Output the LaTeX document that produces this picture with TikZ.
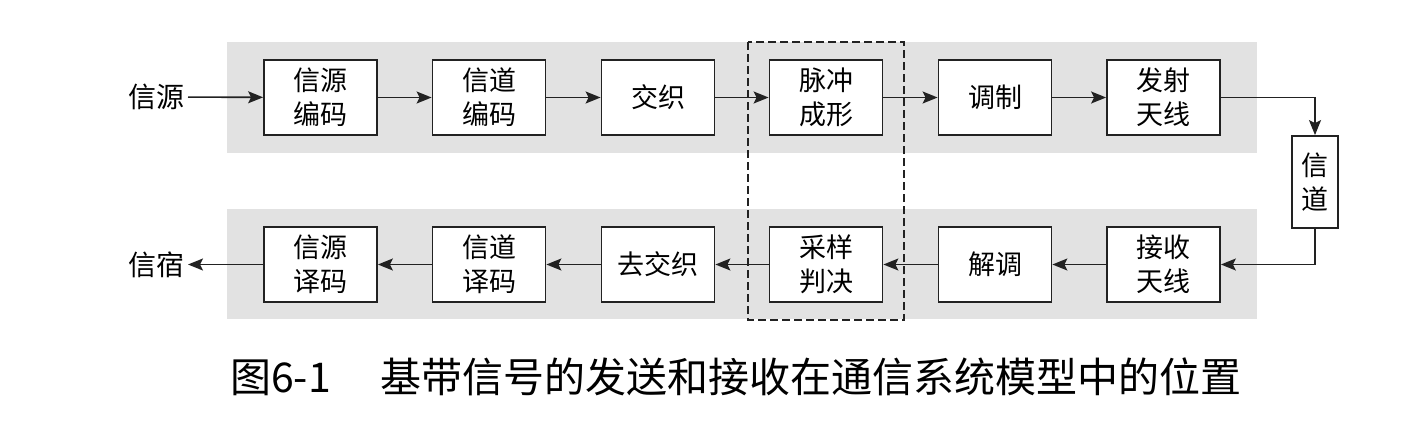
\documentclass[tikz,border=0pt]{standalone}
\usepackage{fontspec}
\newfontfamily\cjk{Noto Sans CJK SC}
\usepackage{xcolor}
\definecolor{BandCol}{RGB}{226,226,226}
\definecolor{LineCol}{RGB}{34,34,34}
\usepackage{tikz}
\usetikzlibrary{arrows.meta}
\tikzstyle{Block}=[draw=LineCol,fill=white,line width=1.8pt,inner sep=0pt,
minimum width=113pt,minimum height=75pt,align=center,
font=\cjk\fontsize{27}{34}\selectfont]
\tikzstyle{Label}=[inner sep=0pt,outer sep=4pt,font=\cjk\fontsize{28}{34}\selectfont]
\tikzstyle{Edge}=[draw=LineCol,line width=1.6pt,
-{Stealth[length=15pt,width=12pt,inset=3pt]}]
\tikzstyle{Band}=[fill=BandCol]
\tikzstyle{Frame}=[draw=LineCol,line width=1.6pt,dash pattern=on 8pt off 4pt]
\begin{document}
\begin{tikzpicture}[x=1pt,y=-1pt]
        \useasboundingbox[fill=white](0,0)rectangle(1428,431);
        % gray bands
        \fill[Band](227,42)rectangle(1257,153);
        \fill[Band](227,209)rectangle(1257,319);
        \draw[Frame](748,42)rectangle(904,320);
        % sending chain
        \node[Label](src)at(156,97){信源};
        \node[Block](t1)at(320.5,97.5){信源\\编码};
        \node[Block](t2)at(489,97.5){信道\\编码};
        \node[Block](t3)at(658,97.5){交织};
        \node[Block](t4)at(826,97.5){脉冲\\成形};
        \node[Block](t5)at(995,97.5){调制};
        \node[Block](t6)at(1163.5,97.5){发射\\天线};
        \node[Block,minimum width=46pt,minimum height=92pt](ch)at(1315,182){信\\道};
        % receiving chain
        \node[Block](r6)at(1163.5,264.5){接收\\天线};
        \node[Block](r5)at(995,264.5){解调};
        \node[Block](r4)at(826,264.5){采样\\判决};
        \node[Block](r3)at(658,264.5){去交织};
        \node[Block](r2)at(489,264.5){信道\\译码};
        \node[Block](r1)at(320.5,264.5){信源\\译码};
        \node[Label](snk)at(156,264.5){信宿};
        \draw[Edge](src)--(t1);
        \draw[Edge](t1)--(t2);
        \draw[Edge](t2)--(t3);
        \draw[Edge](t3)--(t4);
        \draw[Edge](t4)--(t5);
        \draw[Edge](t5)--(t6);
        \draw[Edge](t6.east)-|(ch.north);
        \draw[Edge](ch.south)|-(r6.east);
        \draw[Edge](r6)--(r5);
        \draw[Edge](r5)--(r4);
        \draw[Edge](r4)--(r3);
        \draw[Edge](r3)--(r2);
        \draw[Edge](r2)--(r1);
        \draw[Edge](r1)--(snk);
        % caption
        \node[Label,font=\cjk\fontsize{41}{44}\selectfont](cap)at(736,377)
        {图6-1\hspace{50pt}基带信号的发送和接收在通信系统模型中的位置};
    \end{tikzpicture}
\end{document}
